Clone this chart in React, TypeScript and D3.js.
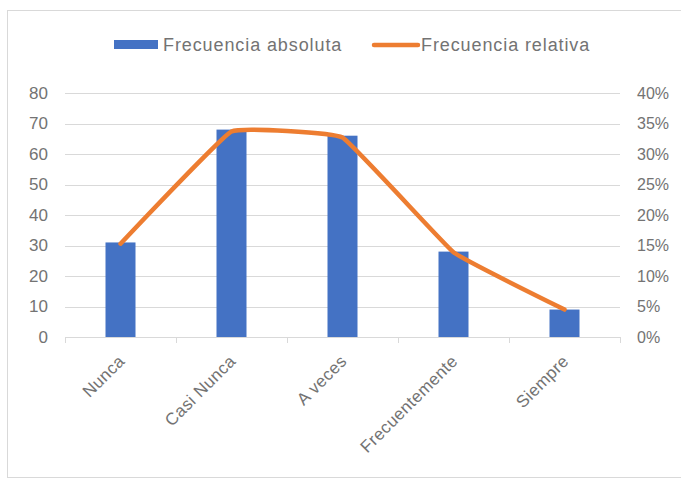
import React, { useEffect, useRef } from "react";
import * as d3 from "d3";

const categories = ["Nunca", "Casi Nunca", "A veces", "Frecuentemente", "Siempre"];
const absoluta = [31, 68, 66, 28, 9];
const relativa = [0.153, 0.337, 0.327, 0.139, 0.045];
const leftTicks = [0, 10, 20, 30, 40, 50, 60, 70, 80];
const rightTicks = [0, 0.05, 0.1, 0.15, 0.2, 0.25, 0.3, 0.35, 0.4];
const legendLabels = ["Frecuencia absoluta", "Frecuencia relativa"];

const W = 681;
const H = 480;
const BLUE = "#4472C4";
const ORANGE = "#ED7D31";
const TEXT = "#737373";
const FONT = "'Liberation Sans', Arial, sans-serif";

export default function App() {
  const ref = useRef<SVGSVGElement | null>(null);

  useEffect(() => {
    const svg = d3.select(ref.current);
    svg.selectAll("*").remove();

    const left = 65, right = 620, top = 93, bottom = 337;
    const x = d3.scaleBand<string>().domain(categories).range([left, right]).paddingInner(0).paddingOuter(0);
    const yL = d3.scaleLinear().domain([0, 80]).range([bottom, top]);
    const yR = d3.scaleLinear().domain([0, 0.4]).range([bottom, top]);

    // chart border
    svg.append("rect").attr("x", 7.5).attr("y", 10.5).attr("width", 700).attr("height", 467)
      .attr("fill", "white").attr("stroke", "#d9d9d9").attr("stroke-width", 1);

    // gridlines
    svg.append("g").selectAll("line").data(leftTicks.filter((t) => t > 0)).join("line")
      .attr("x1", left).attr("x2", right)
      .attr("y1", (d) => Math.round(yL(d)) + 0.5).attr("y2", (d) => Math.round(yL(d)) + 0.5)
      .attr("stroke", "#d9d9d9").attr("stroke-width", 1);

    // x axis line
    svg.append("line").attr("x1", left).attr("x2", right)
      .attr("y1", bottom + 0.5).attr("y2", bottom + 0.5)
      .attr("stroke", "#d9d9d9");
    const bounds = categories.map((c) => x(c)!).concat([right]);
    svg.append("g").selectAll("line").data(bounds).join("line")
      .attr("x1", (d) => Math.round(d) + 0.5).attr("x2", (d) => Math.round(d) + 0.5)
      .attr("y1", bottom).attr("y2", bottom + 6)
      .attr("stroke", "#d9d9d9");

    // bars
    const bw = 30;
    svg.append("g").selectAll("rect").data(absoluta).join("rect")
      .attr("x", (_d, i) => x(categories[i])! + x.bandwidth() / 2 - bw / 2)
      .attr("width", bw)
      .attr("y", (d) => yL(d))
      .attr("height", (d) => yL(0) - yL(d))
      .attr("fill", BLUE);

    // line
    const line = d3.line<number>()
      .x((_d, i) => x(categories[i])! + x.bandwidth() / 2)
      .y((d) => yR(d))
      .curve(d3.curveCardinal.tension(0.75));
    svg.append("path").datum(relativa).attr("d", line)
      .attr("fill", "none").attr("stroke", ORANGE).attr("stroke-width", 4.5)
      .attr("stroke-linejoin", "round").attr("stroke-linecap", "round");

    // left axis labels
    svg.append("g").selectAll("text").data(leftTicks).join("text")
      .attr("x", 48).attr("y", (d) => yL(d))
      .attr("dy", "0.35em").attr("text-anchor", "end")
      .attr("font-family", FONT).attr("font-size", 17).attr("fill", TEXT)
      .text((d) => String(d));

    // right axis labels
    const pct = d3.format(".0%");
    svg.append("g").selectAll("text").data(rightTicks).join("text")
      .attr("x", 637).attr("y", (d) => yR(d))
      .attr("dy", "0.35em").attr("text-anchor", "start")
      .attr("font-family", FONT).attr("font-size", 16).attr("fill", TEXT)
      .text((d) => pct(d));

    // category labels
    svg.append("g").selectAll("text").data(categories).join("text")
      .attr("transform", (d) => `translate(${x(d)! + x.bandwidth() / 2 + 1},${bottom + 21}) rotate(-45)`)
      .attr("text-anchor", "end").attr("dy", "0.35em")
      .attr("font-family", FONT).attr("font-size", 17).attr("letter-spacing", 0.4).attr("fill", TEXT)
      .text((d) => d);

    // legend
    const lg = svg.append("g");
    lg.append("rect").attr("x", 114).attr("y", 40).attr("width", 44).attr("height", 9).attr("fill", BLUE);
    lg.append("text").attr("x", 163).attr("y", 45).attr("dy", "0.35em")
      .attr("font-family", FONT).attr("font-size", 18).attr("letter-spacing", 0.9).attr("fill", TEXT).text(legendLabels[0]);
    lg.append("line").attr("x1", 374).attr("x2", 418).attr("y1", 45).attr("y2", 45)
      .attr("stroke", ORANGE).attr("stroke-width", 4.5).attr("stroke-linecap", "round");
    lg.append("text").attr("x", 421).attr("y", 45).attr("dy", "0.35em")
      .attr("font-family", FONT).attr("font-size", 18).attr("letter-spacing", 0.9).attr("fill", TEXT).text(legendLabels[1]);
  }, []);

  return (
    <div style={{ position: "absolute", left: 0, top: 0 }}>
      <svg ref={ref} width={W} height={H} style={{ display: "block", background: "white" }} />
    </div>
  );
}
